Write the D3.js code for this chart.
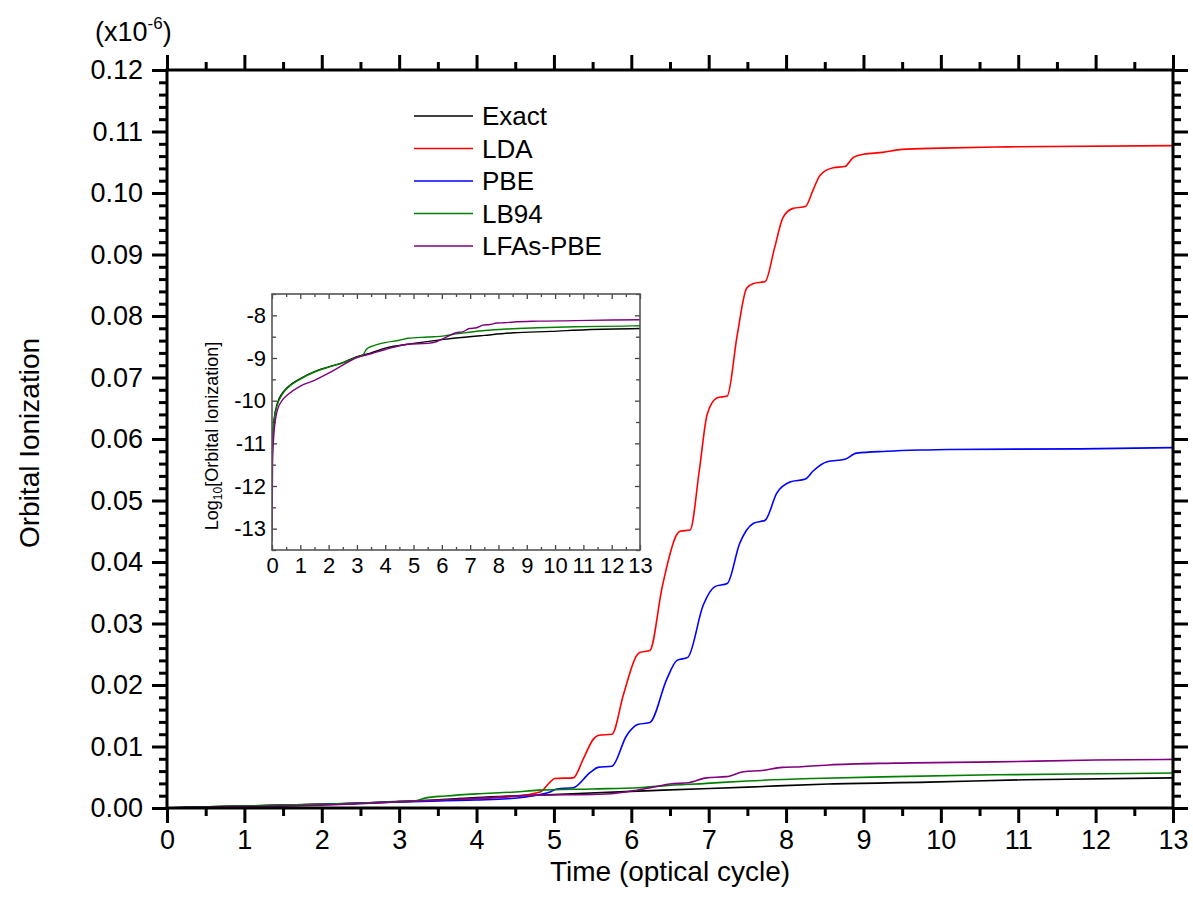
<!DOCTYPE html>
<html><head><meta charset="utf-8">
<script src="https://cdn.jsdelivr.net/npm/d3@7"></script>
<style>
body{margin:0;background:#fff;}
text{font-family:"Liberation Sans",Arial,sans-serif;fill:#000;}
</style>
</head><body>
<svg id="c" width="1193" height="920"></svg>
<script>
// ---------- data (values in units of 1e-6) ----------
const seriesNames  = ["Exact","LDA","PBE","LB94","LFAs-PBE"];
const seriesColors = ["#000000","#ff0000","#0000ff","#008000","#800080"];

const exactT = [0,0.02,0.07,0.19,0.36,0.54,1.0,1.5,2.0,2.5,3.0,3.5,4.0,5.0,6.0,6.41,7.5,8.55,9.84,11.1,13];
const exactV = [3e-6,1.2e-5,3.5e-5,8.7e-5,1.48e-4,2.04e-4,3.3e-4,4.8e-4,6.2e-4,7.8e-4,1.07e-3,1.32e-3,1.70e-3,2.2e-3,2.7e-3,2.9e-3,3.4e-3,3.9e-3,4.2e-3,4.6e-3,4.9e-3];

const ldaT = [0,1,2,3,4,4.4,4.82,4.95,5.01,5.25,5.38,5.51,5.57,5.75,5.9,6.07,6.11,6.24,6.4,6.59,6.63,6.76,6.88,6.98,7.11,7.24,7.37,7.49,7.58,7.73,7.85,7.96,8.09,8.25,8.35,8.44,8.61,8.76,8.87,9.0,9.25,9.5,10,10.85,13];
const ldaV = [0,0.0003,0.0006,0.001,0.0015,0.0018,0.0026,0.0042,0.0048,0.0049,0.0080,0.0112,0.0118,0.0120,0.0185,0.0248,0.0253,0.0256,0.036,0.0445,0.0450,0.0452,0.055,0.0640,0.0667,0.0670,0.077,0.0845,0.0853,0.0856,0.091,0.0960,0.0975,0.0978,0.1005,0.1029,0.1041,0.1043,0.1058,0.1063,0.1066,0.1071,0.1073,0.1075,0.1077];

const pbeT = [0,1,2,3,4,4.4,4.82,4.95,5.04,5.25,5.47,5.57,5.75,5.94,6.09,6.24,6.46,6.59,6.73,6.93,7.08,7.24,7.4,7.58,7.73,7.88,8.05,8.25,8.35,8.53,8.76,8.91,9.3,9.73,10.1,11.8,13];
const pbeV = [0,0.0003,0.0006,0.001,0.0013,0.0015,0.0022,0.0026,0.0031,0.0033,0.0058,0.0066,0.0068,0.0118,0.0136,0.0139,0.0210,0.0240,0.0245,0.0330,0.0360,0.0365,0.0430,0.0463,0.0468,0.0512,0.0530,0.0535,0.0548,0.0563,0.0567,0.0577,0.0580,0.0582,0.0583,0.0584,0.0586];

const lb94T = [0,0.02,0.07,0.19,0.36,0.54,1.0,1.5,2.0,2.5,3.0,3.2,3.35,3.6,4.0,4.5,4.8,5.5,6.1,6.41,6.97,7.5,8.35,9.4,10.7,12.43,13];
const lb94V = [2.5e-6,1e-5,3.2e-5,8e-5,1.4e-4,1.95e-4,3.2e-4,4.7e-4,6.1e-4,7.7e-4,1.05e-3,1.15e-3,1.65e-3,1.95e-3,2.3e-3,2.6e-3,2.9e-3,3.1e-3,3.3e-3,3.6e-3,4.0e-3,4.4e-3,4.8e-3,5.1e-3,5.4e-3,5.6e-3,5.7e-3];

const lfasT = [0,0.02,0.07,0.19,0.36,0.54,1.0,1.5,2.0,2.5,3.0,3.5,4.0,4.8,5.5,5.8,6.07,6.25,6.5,6.74,6.97,7.23,7.45,7.69,7.95,8.2,8.55,9.4,10.7,12.0,13];
const lfasV = [5e-8,3.7e-6,1.74e-5,6e-5,1.02e-4,1.35e-4,2.2e-4,3.0e-4,4.4e-4,6.8e-4,1.02e-3,1.26e-3,1.58e-3,2.1e-3,2.2e-3,2.4e-3,2.9e-3,3.3e-3,3.9e-3,4.1e-3,4.9e-3,5.1e-3,5.9e-3,6.1e-3,6.6e-3,6.7e-3,7.0e-3,7.3e-3,7.5e-3,7.8e-3,7.9e-3];

const xTickValues = [0,1,2,3,4,5,6,7,8,9,10,11,12,13];
const yTickValues = [0,0.01,0.02,0.03,0.04,0.05,0.06,0.07,0.08,0.09,0.10,0.11,0.12];
const insetYTickValues = [-13,-12,-11,-10,-9,-8];
const insetSeries = ["Exact","LB94","LFAs-PBE"];

// ---------- build ----------
const allT = [exactT, ldaT, pbeT, lb94T, lfasT];
const allV = [exactV, ldaV, pbeV, lb94V, lfasV];
const series = seriesNames.map((n,i)=>({name:n,color:seriesColors[i],pts:allT[i].map((t,j)=>({t:t,v:allV[i][j]}))}));

const svg = d3.select("#c");
const L=167,R=1173,T=70,B=808;
const x = d3.scaleLinear().domain([0,13]).range([L,R]);
const y = d3.scaleLinear().domain([0,0.12]).range([B,T]);

const FONT='"Liberation Sans",Arial,sans-serif';
function styleAxis(g,fs){
  g.attr("font-family",FONT).attr("font-size",fs);
  g.select(".domain").remove();
  g.selectAll("line").attr("stroke","#000").attr("stroke-width",3);
  g.selectAll("text").attr("fill","#000");
}
const half = d3.range(0,13,1).map(d=>d+0.5);
const yMinor = d3.range(0,0.12,0.002).map(d=>+d.toFixed(4)).filter(d=>Math.round(d*1000)%10!==0);

// minor ticks
svg.append("g").attr("transform",`translate(0,${B})`).call(d3.axisBottom(x).tickValues(half).tickSize(8).tickFormat("")).call(styleAxis,27);
svg.append("g").attr("transform",`translate(0,${T})`).call(d3.axisTop(x).tickValues(half).tickSize(8).tickFormat("")).call(styleAxis,27);
svg.append("g").attr("transform",`translate(${L},0)`).call(d3.axisLeft(y).tickValues(yMinor).tickSize(8).tickFormat("")).call(styleAxis,27);
svg.append("g").attr("transform",`translate(${R},0)`).call(d3.axisRight(y).tickValues(yMinor).tickSize(8).tickFormat("")).call(styleAxis,27);
// major ticks
svg.append("g").attr("transform",`translate(0,${B})`).call(d3.axisBottom(x).tickValues(xTickValues).tickSize(15).tickPadding(7).tickFormat(d3.format("d"))).call(styleAxis,27);
svg.append("g").attr("transform",`translate(0,${T})`).call(d3.axisTop(x).tickValues(xTickValues).tickSize(15).tickFormat("")).call(styleAxis,27);
svg.append("g").attr("transform",`translate(${L},0)`).call(d3.axisLeft(y).tickValues(yTickValues).tickSize(15).tickPadding(9).tickFormat(d3.format(".2f"))).call(styleAxis,27);
svg.append("g").attr("transform",`translate(${R},0)`).call(d3.axisRight(y).tickValues(yTickValues).tickSize(15).tickFormat("")).call(styleAxis,27);

// clip
svg.append("clipPath").attr("id","mainclip").append("rect").attr("x",L).attr("y",T).attr("width",R-L).attr("height",B-T);
const line = d3.line().x(d=>x(d.t)).y(d=>y(d.v)).curve(d3.curveMonotoneX);
const gl = svg.append("g").attr("clip-path","url(#mainclip)");
series.forEach(s=>{
  gl.append("path").attr("d",line(s.pts)).attr("fill","none").attr("stroke",s.color).attr("stroke-width",1.6);
});

// frame
svg.append("rect").attr("x",L).attr("y",T).attr("width",R-L).attr("height",B-T).attr("fill","none").attr("stroke","#000").attr("stroke-width",3);

// titles
svg.append("text").attr("x",(L+R)/2).attr("y",881).attr("text-anchor","middle").attr("font-size",28).text("Time (optical cycle)");
svg.append("text").attr("transform","translate(39,443) rotate(-90)").attr("text-anchor","middle").attr("font-size",28).text("Orbital Ionization");
const sc = svg.append("text").attr("x",95).attr("y",41).attr("font-size",27);
sc.append("tspan").text("(x10");
sc.append("tspan").attr("dy",-12).attr("font-size",17).text("-6");
sc.append("tspan").attr("dy",12).text(")");

// legend
const lg = svg.append("g");
series.forEach((s,i)=>{
  const cy = 116 + i*32.5;
  lg.append("line").attr("x1",414).attr("x2",473).attr("y1",cy).attr("y2",cy).attr("stroke",s.color).attr("stroke-width",1.6);
  lg.append("text").attr("x",482).attr("y",cy+9).attr("font-size",26).text(s.name);
});

// ---------- inset ----------
const iL=272,iR=640,iT=294,iB=550;
const ix = d3.scaleLinear().domain([0,13]).range([iL,iR]);
const iy = d3.scaleLinear().domain([-13.5,-7.5]).range([iB,iT]);
svg.append("rect").attr("x",iL).attr("y",iT).attr("width",iR-iL).attr("height",iB-iT).attr("fill","#fff");
function styleInset(g){
  g.attr("font-family",FONT).attr("font-size",22);
  g.select(".domain").remove();
  g.selectAll("line").attr("stroke","#444").attr("stroke-width",1.3);
  g.selectAll("text").attr("fill","#000");
}
const iyMinor = [-13.5,-12.5,-11.5,-10.5,-9.5,-8.5,-7.5];
svg.append("g").attr("transform",`translate(0,${iB})`).call(d3.axisBottom(ix).tickValues(half).tickSize(-3).tickFormat("")).call(styleInset);
svg.append("g").attr("transform",`translate(0,${iT})`).call(d3.axisTop(ix).tickValues(half).tickSize(-3).tickFormat("")).call(styleInset);
svg.append("g").attr("transform",`translate(${iL},0)`).call(d3.axisLeft(iy).tickValues(iyMinor).tickSize(-4).tickFormat("")).call(styleInset);
svg.append("g").attr("transform",`translate(${iR},0)`).call(d3.axisRight(iy).tickValues(iyMinor).tickSize(-4).tickFormat("")).call(styleInset);
svg.append("g").attr("transform",`translate(0,${iB})`).call(d3.axisBottom(ix).tickValues(xTickValues).tickSize(-5).tickPadding(7).tickFormat(d3.format("d"))).call(styleInset);
svg.append("g").attr("transform",`translate(0,${iT})`).call(d3.axisTop(ix).tickValues(xTickValues).tickSize(-5).tickFormat("")).call(styleInset);
svg.append("g").attr("transform",`translate(${iL},0)`).call(d3.axisLeft(iy).tickValues(insetYTickValues).tickSize(-5).tickPadding(6).tickFormat(d=>"-"+Math.abs(d))).call(styleInset);
svg.append("g").attr("transform",`translate(${iR},0)`).call(d3.axisRight(iy).tickValues(insetYTickValues).tickSize(-5).tickFormat("")).call(styleInset);

svg.append("clipPath").attr("id","insetclip").append("rect").attr("x",iL).attr("y",iT).attr("width",iR-iL).attr("height",iB-iT);
const iline = d3.line().x(d=>ix(d.t)).y(d=>iy(Math.log10(d.v*1e-6))).curve(d3.curveMonotoneX);
const gi = svg.append("g").attr("clip-path","url(#insetclip)");
series.filter(s=>insetSeries.includes(s.name)).forEach(s=>{
  gi.append("path").attr("d",iline(s.pts.filter(p=>p.v>0))).attr("fill","none").attr("stroke",s.color).attr("stroke-width",1.4);
});
svg.append("rect").attr("x",iL).attr("y",iT).attr("width",iR-iL).attr("height",iB-iT).attr("fill","none").attr("stroke","#555").attr("stroke-width",1.6);

const yl = svg.append("text").attr("transform","translate(218,436) rotate(-90)").attr("text-anchor","middle").attr("font-size",18);
yl.append("tspan").text("Log");
yl.append("tspan").attr("dy",4).attr("font-size",12).text("10");
yl.append("tspan").attr("dy",-4).text("[Orbital Ionization]");
</script>
</body></html>
